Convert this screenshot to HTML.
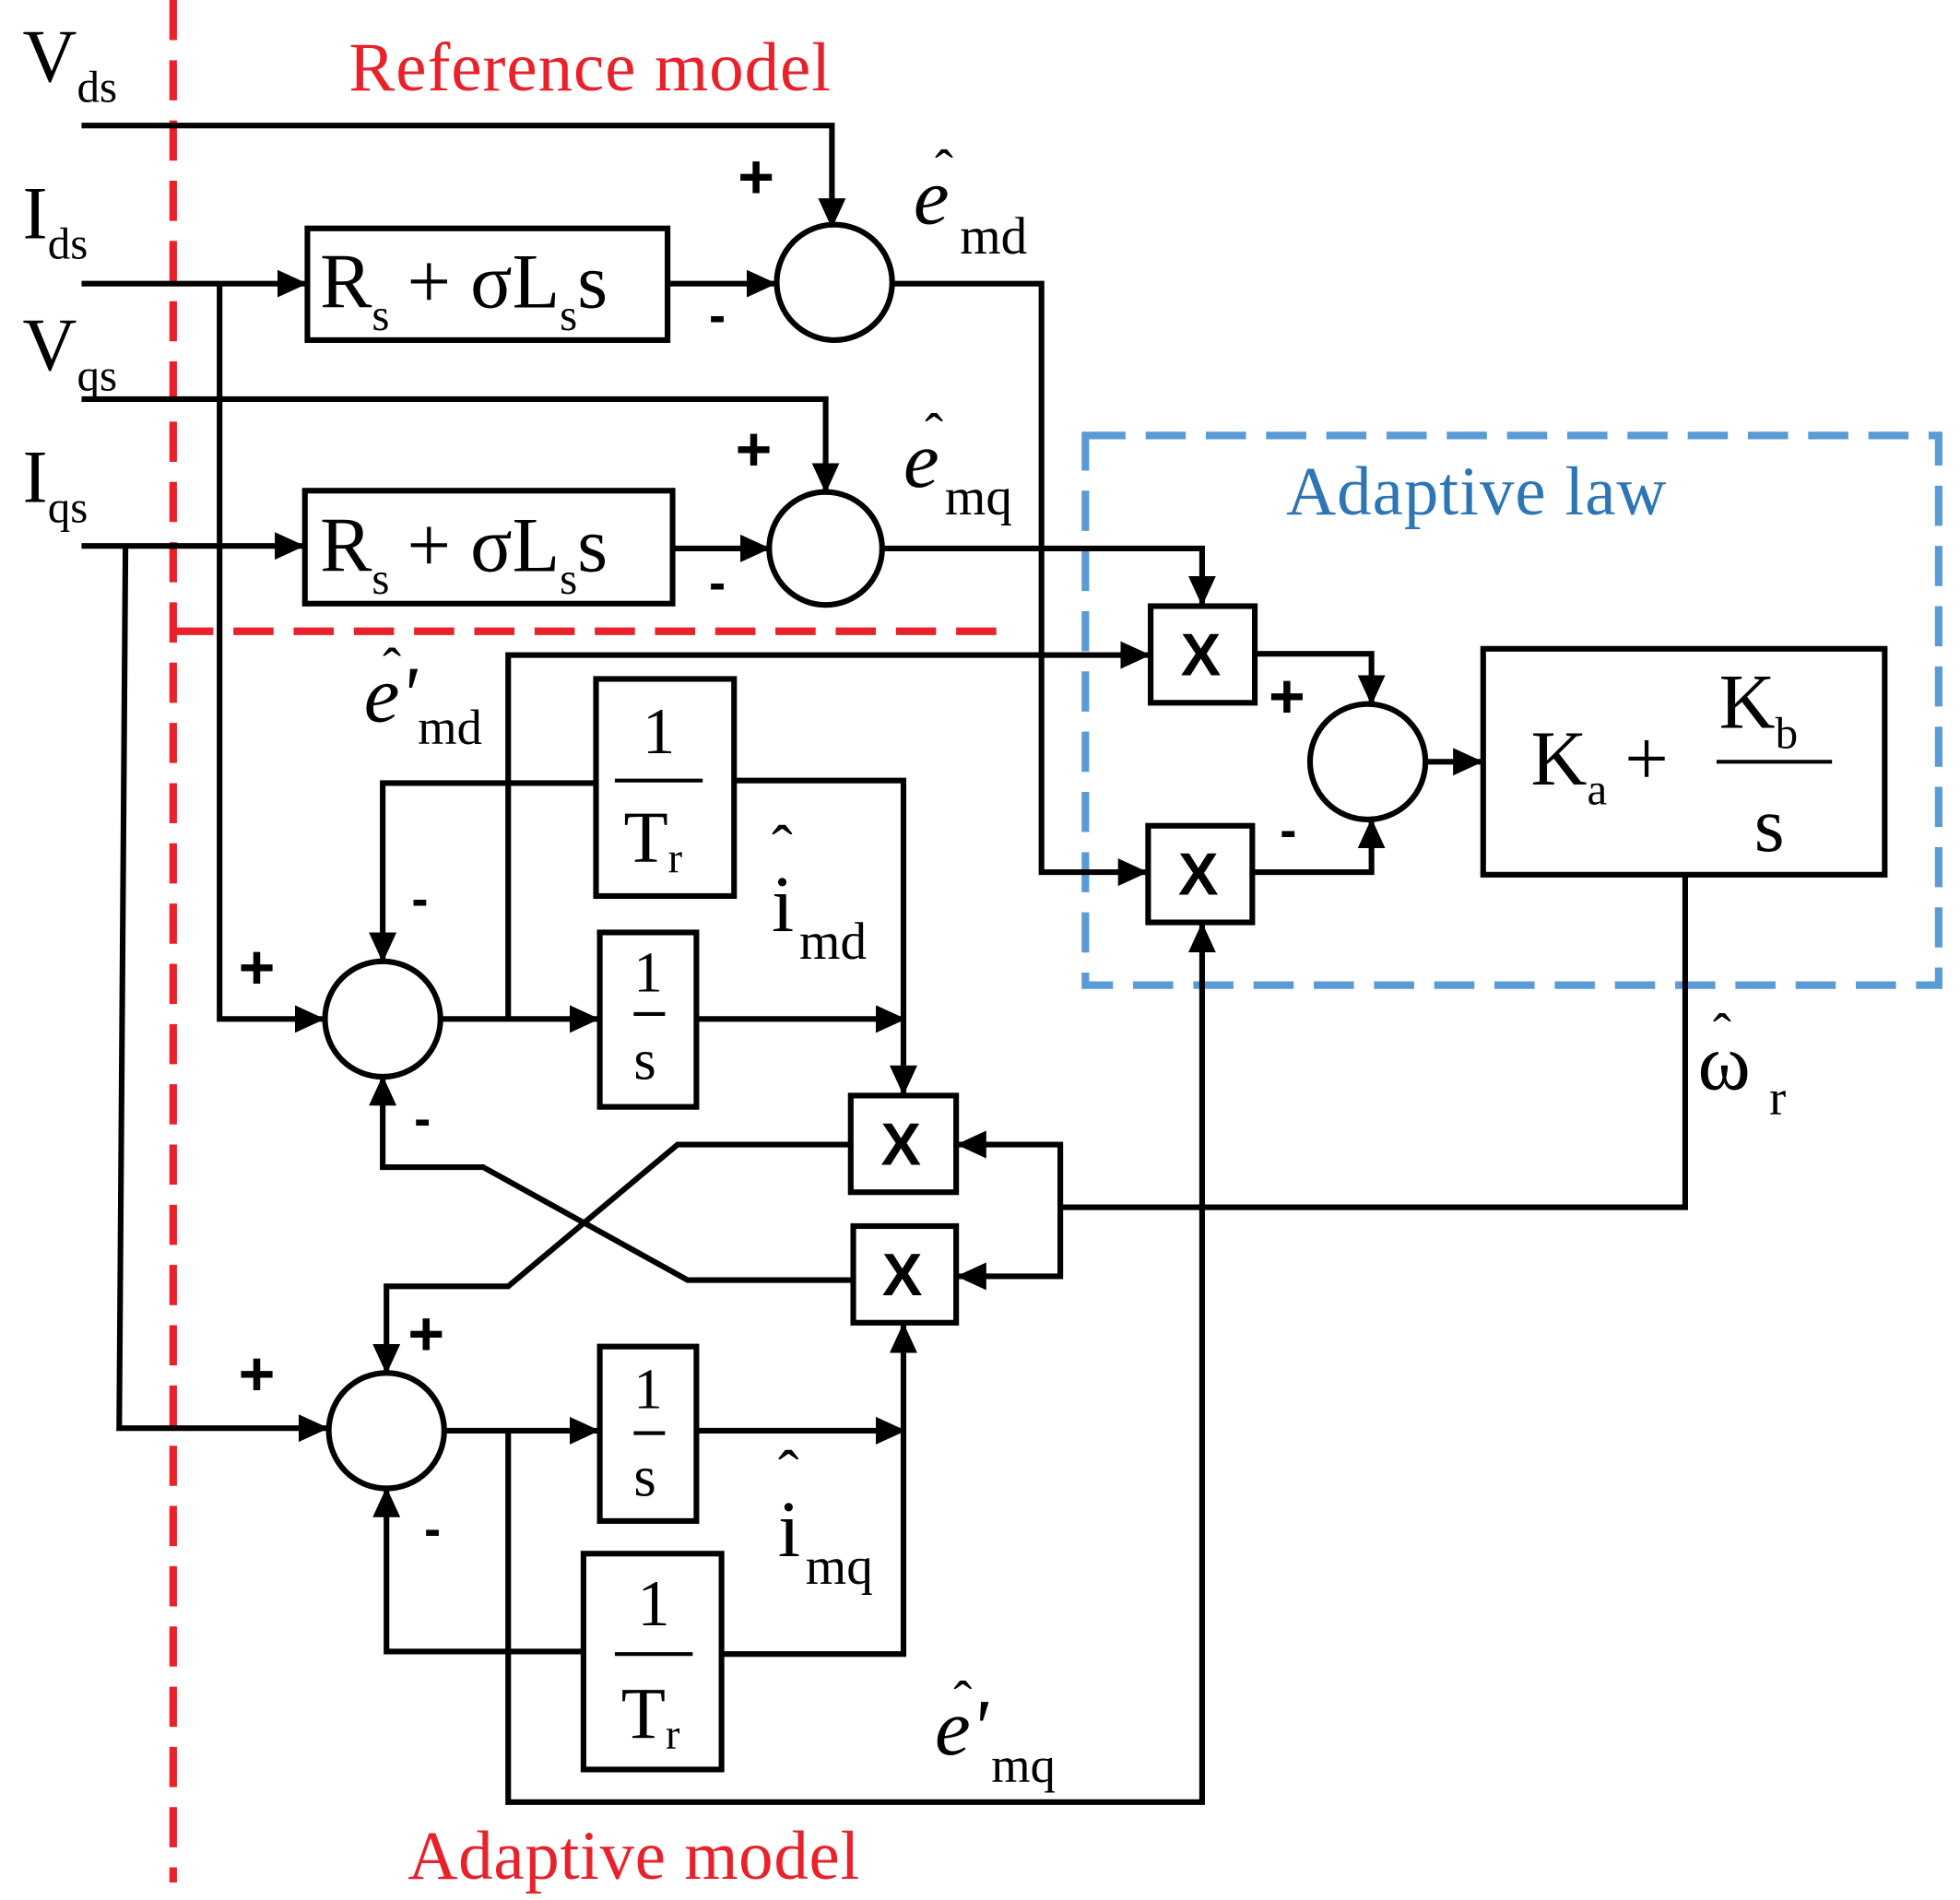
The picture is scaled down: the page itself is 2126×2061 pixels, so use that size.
<!DOCTYPE html>
<html><head><meta charset="utf-8"><style>html,body{margin:0;padding:0;background:#fff}svg{display:block}</style></head>
<body>
<svg width="2126" height="2061" viewBox="0 0 1562 1514" preserveAspectRatio="none" xmlns="http://www.w3.org/2000/svg" font-family="Liberation Serif, serif">
<defs>
<marker id="b" markerWidth="24" markerHeight="22" refX="22" refY="11" orient="auto" markerUnits="userSpaceOnUse"><path d="M0,0 L24,11 L0,22 z" fill="#000"/></marker></defs>
<g stroke="#e8212a" stroke-width="6" stroke-dasharray="32,16" fill="none">
<line x1="138" y1="0" x2="138" y2="1500"/><line x1="138" y1="503" x2="808" y2="503"/></g>
<rect x="865" y="347" width="680" height="438" fill="none" stroke="#5b9bd5" stroke-width="6" stroke-dasharray="32,16"/>
<g stroke="#000" stroke-width="4.5" fill="none">
<rect x="245" y="182" width="287" height="89"/><rect x="243" y="391" width="293" height="90"/>
<rect x="475" y="541" width="110" height="173"/><rect x="478" y="743" width="77" height="139"/>
<rect x="478" y="1073" width="77" height="139"/><rect x="465" y="1238" width="110" height="172"/>
<rect x="917" y="483" width="83" height="77"/><rect x="915" y="658" width="83" height="77"/>
<rect x="678" y="873" width="84" height="77"/><rect x="680" y="977" width="82" height="77"/>
<rect x="1182" y="517" width="320" height="180"/>
<circle cx="665" cy="225" r="46"/><circle cx="658" cy="437" r="45"/><circle cx="305" cy="812" r="46"/><circle cx="308" cy="1140" r="46"/><circle cx="1090" cy="607" r="46"/>
</g>
<g stroke="#000" stroke-width="4.5" fill="none" marker-end="url(#b)">
<polyline points="65,100 663,100 663,180"/>
<polyline points="65,226 243,226"/>
<polyline points="532,226 617,226"/>
<polyline points="712,226 830,226 830,695 913,695"/>
<polyline points="65,318 658,318 658,391"/>
<polyline points="65,435 241,435"/>
<polyline points="536,437 612,437"/>
<polyline points="704,437 958,437 958,481"/>
<polyline points="175,226 175,812 257,812"/>
<polyline points="100,435 95,1138 260,1138"/>
<polyline points="351,812 476,812"/>
<polyline points="405,812 405,522 915,522"/>
<polyline points="475,624 305,624 305,765"/>
<polyline points="585,622 720,622 720,871"/>
<polyline points="555,812 720,812"/>
<polyline points="1343,697 1343,962 845,962 845,912 764,912"/>
<polyline points="845,962 845,1017 764,1017"/>
<polyline points="678,912 540,912 405,1025 308,1025 308,1093"/>
<polyline points="680,1020 548,1020 385,930 305,930 305,859"/>
<polyline points="354,1140 476,1140"/>
<polyline points="405,1140 405,1436 958,1436 958,737"/>
<polyline points="555,1140 720,1140"/>
<polyline points="575,1318 720,1318 720,1056"/>
<polyline points="465,1316 308,1316 308,1187"/>
<polyline points="1000,521 1093,521 1093,560"/>
<polyline points="998,695 1093,695 1093,654"/>
<polyline points="1137,607 1180,607"/>
</g>
<g font-size="55" fill="#e8212a"><text x="278" y="72" textLength="384">Reference model</text><text x="325" y="1497" textLength="360">Adaptive model</text></g>
<text x="1025" y="410" font-size="55" fill="#2e75b6" textLength="303">Adaptive law</text>
<g fill="#000" font-size="60">
<text x="18" y="65">V<tspan font-size="36" dy="16">ds</tspan></text>
<text x="18" y="190">I<tspan font-size="36" dy="16">ds</tspan></text>
<text x="18" y="295">V<tspan font-size="36" dy="16">qs</tspan></text>
<text x="18" y="400">I<tspan font-size="36" dy="16">qs</tspan></text>
<text x="255" y="245" font-size="62">R<tspan font-size="36" dy="18">s</tspan><tspan dy="-18" dx="14">+ σL</tspan><tspan font-size="36" dy="18">s</tspan><tspan dy="-18">s</tspan></text>
<text x="255" y="455" font-size="62">R<tspan font-size="36" dy="18">s</tspan><tspan dy="-18" dx="14">+ σL</tspan><tspan font-size="36" dy="18">s</tspan><tspan dy="-18">s</tspan></text>
<text x="512" y="600" font-size="52">1</text><line x1="490" y1="622" x2="560" y2="622" stroke="#000" stroke-width="3"/><text x="497" y="687" font-size="58">T<tspan font-size="34" dy="8">r</tspan></text>
<text x="508" y="1295" font-size="52">1</text><line x1="490" y1="1318" x2="552" y2="1318" stroke="#000" stroke-width="3"/><text x="495" y="1385" font-size="58">T<tspan font-size="34" dy="8">r</tspan></text>
<text x="505" y="790" font-size="46">1</text><line x1="505" y1="808" x2="530" y2="808" stroke="#000" stroke-width="3"/><text x="505" y="860" font-size="46">s</text>
<text x="505" y="1122" font-size="46">1</text><line x1="505" y1="1142" x2="530" y2="1142" stroke="#000" stroke-width="3"/><text x="505" y="1192" font-size="46">s</text>
<text x="1220" y="625" font-size="62">K<tspan font-size="36" dy="16">a</tspan><tspan dy="-16" dx="14">+ </tspan></text>
<text x="1370" y="580" font-size="62">K<tspan font-size="36" dy="16">b</tspan></text><line x1="1368" y1="607" x2="1460" y2="607" stroke="#000" stroke-width="3"/><text x="1398" y="678" font-size="62">s</text>
<g font-family="Liberation Sans, sans-serif" font-size="48" font-weight="bold"><text x="941" y="538">X</text><text x="939" y="713">X</text><text x="702" y="928">X</text><text x="703" y="1032">X</text></g>
<g font-family="Liberation Sans, sans-serif" font-size="50" font-weight="bold"><text x="588" y="158">+</text><text x="586" y="375">+</text><text x="190" y="788">+</text><text x="190" y="1112">+</text><text x="325" y="1080">+</text><text x="1011" y="572">+</text>
<text x="565" y="265" font-size="40">-</text><text x="565" y="478" font-size="40">-</text><text x="328" y="730" font-size="40">-</text><text x="330" y="905" font-size="40">-</text><text x="338" y="1232" font-size="40">-</text><text x="1020" y="675" font-size="40">-</text></g>
<g font-size="64">
<text x="728" y="178" font-style="italic">e</text><text x="745" y="150" font-size="44">ˆ</text><text x="765" y="202" font-size="42">md</text>
<text x="720" y="388" font-style="italic">e</text><text x="737" y="360" font-size="44">ˆ</text><text x="753" y="410" font-size="42">mq</text>
<text x="290" y="575" font-style="italic">e'</text><text x="305" y="547" font-size="44">ˆ</text><text x="333" y="593" font-size="40">md</text>
<text x="745" y="1398" font-style="italic">e'</text><text x="760" y="1370" font-size="44">ˆ</text><text x="790" y="1420" font-size="40">mq</text>
<text x="615" y="742">i</text><text x="615" y="692" font-size="50">ˆ</text><text x="637" y="764" font-size="42">md</text>
<text x="620" y="1240">i</text><text x="620" y="1190" font-size="50">ˆ</text><text x="642" y="1262" font-size="42">mq</text>
<text x="1353" y="868">ω</text><text x="1365" y="838" font-size="44">ˆ</text><text x="1410" y="888" font-size="40">r</text>
</g>
</g>
</svg>
</body></html>
